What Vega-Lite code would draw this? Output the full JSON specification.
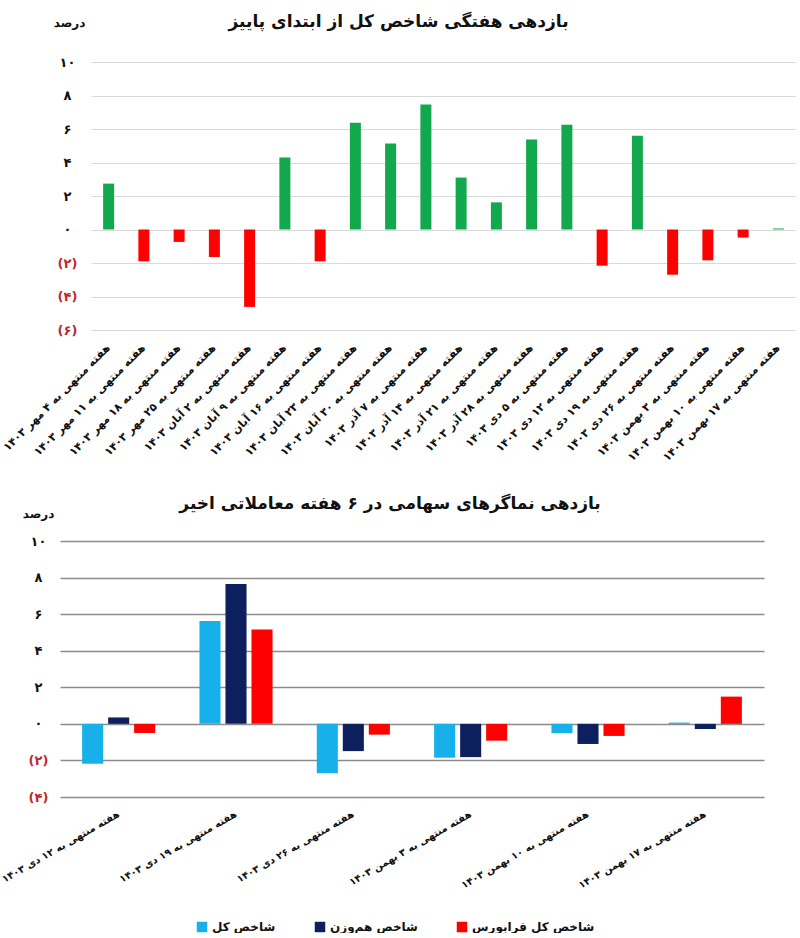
{
  "$schema": "https://vega.github.io/schema/vega-lite/v6.json",
  "background": "white",
  "padding": {"left": 0, "top": 13, "right": 0, "bottom": 0},
  "spacing": 32,
  "config": {
    "font": "DejaVu Sans",
    "view": {"stroke": null},
    "title": {"font": "DejaVu Sans", "fontSize": 17, "fontWeight": "bold", "color": "#111111", "frame": "bounds", "anchor": "middle"},
    "axis": {"labelFont": "DejaVu Sans", "titleFont": "DejaVu Sans", "labelFontWeight": "bold", "titleFontWeight": "bold", "labelColor": "#111111", "titleColor": "#111111"},
    "legend": {"labelFont": "DejaVu Sans"}
  },
  "vconcat": [
    {
      "title": {"text": "بازدهی هفتگی شاخص کل از ابتدای پاییز", "offset": -15},
      "width": 736,
      "height": 268,
      "data": {"values": [
        {"week": "هفته منتهی به ۴ مهر ۱۴۰۳", "value": 2.74},
        {"week": "هفته منتهی به ۱۱ مهر ۱۴۰۳", "value": -1.9},
        {"week": "هفته منتهی به ۱۸ مهر ۱۴۰۳", "value": -0.74},
        {"week": "هفته منتهی به ۲۵ مهر ۱۴۰۳", "value": -1.64},
        {"week": "هفته منتهی به ۲ آبان ۱۴۰۳", "value": -4.62},
        {"week": "هفته منتهی به ۹ آبان ۱۴۰۳", "value": 4.3},
        {"week": "هفته منتهی به ۱۶ آبان ۱۴۰۳", "value": -1.9},
        {"week": "هفته منتهی به ۲۳ آبان ۱۴۰۳", "value": 6.38},
        {"week": "هفته منتهی به ۳۰ آبان ۱۴۰۳", "value": 5.14},
        {"week": "هفته منتهی به ۷ آذر ۱۴۰۳", "value": 7.46},
        {"week": "هفته منتهی به ۱۴ آذر ۱۴۰۳", "value": 3.1},
        {"week": "هفته منتهی به ۲۱ آذر ۱۴۰۳", "value": 1.62},
        {"week": "هفته منتهی به ۲۸ آذر ۱۴۰۳", "value": 5.38},
        {"week": "هفته منتهی به ۵ دی ۱۴۰۳", "value": 6.26},
        {"week": "هفته منتهی به ۱۲ دی ۱۴۰۳", "value": -2.16},
        {"week": "هفته منتهی به ۱۹ دی ۱۴۰۳", "value": 5.6},
        {"week": "هفته منتهی به ۲۶ دی ۱۴۰۳", "value": -2.7},
        {"week": "هفته منتهی به ۳ بهمن ۱۴۰۳", "value": -1.84},
        {"week": "هفته منتهی به ۱۰ بهمن ۱۴۰۳", "value": -0.48},
        {"week": "هفته منتهی به ۱۷ بهمن ۱۴۰۳", "value": 0.06}
      ]},
      "mark": {"type": "bar", "width": 11},
      "encoding": {
        "x": {
          "field": "week", "type": "nominal", "sort": null,
          "scale": {"paddingInner": 0, "paddingOuter": 0, "range": [31, 736]},
          "axis": {"title": null, "labelAngle": -45, "labelFontSize": 11, "labelPadding": 16, "ticks": false, "domain": false, "grid": false, "labelAlign": "right", "labelBaseline": "middle", "labelLimit": 300}
        },
        "y": {
          "field": "value", "type": "quantitative",
          "scale": {"domain": [-6, 10], "nice": false},
          "axis": {
            "offset": -31,
            "title": "درصد", "titleAngle": 0, "titleX": -22, "titleY": -40, "titleAlign": "center", "titleBaseline": "middle", "titleFontSize": 12,
            "values": [-6, -4, -2, 0, 2, 4, 6, 8, 10],
            "labelExpr": "(datum.value < 0 ? '(' : '') + (abs(datum.value) == 10 ? '۱۰' : abs(datum.value) == 8 ? '۸' : abs(datum.value) == 6 ? '۶' : abs(datum.value) == 4 ? '۴' : abs(datum.value) == 2 ? '۲' : '۰') + (datum.value < 0 ? ')' : '')",
            "labelAlign": "center", "labelPadding": 24, "labelFontSize": 13,
            "labelColor": {"condition": {"test": "datum.value < 0", "value": "#c0262d"}, "value": "#111111"},
            "ticks": false, "domain": false, "grid": true, "gridColor": "#dadada", "gridWidth": 1
          }
        },
        "color": {"condition": {"test": "datum.value >= 0", "value": "#11a84e"}, "value": "#ff0000"}
      }
    },
    {
      "title": {"text": "بازدهی نماگرهای سهامی در ۶ هفته معاملاتی اخیر", "offset": -6, "dx": 8},
      "width": 704,
      "height": 256,
      "data": {"values": [
        {"week": "هفته منتهی به ۱۲ دی ۱۴۰۳", "series": "شاخص کل", "value": -2.18},
        {"week": "هفته منتهی به ۱۲ دی ۱۴۰۳", "series": "شاخص هم‌وزن", "value": 0.35},
        {"week": "هفته منتهی به ۱۲ دی ۱۴۰۳", "series": "شاخص کل فرابورس", "value": -0.5},
        {"week": "هفته منتهی به ۱۹ دی ۱۴۰۳", "series": "شاخص کل", "value": 5.63},
        {"week": "هفته منتهی به ۱۹ دی ۱۴۰۳", "series": "شاخص هم‌وزن", "value": 7.65},
        {"week": "هفته منتهی به ۱۹ دی ۱۴۰۳", "series": "شاخص کل فرابورس", "value": 5.16},
        {"week": "هفته منتهی به ۲۶ دی ۱۴۰۳", "series": "شاخص کل", "value": -2.7},
        {"week": "هفته منتهی به ۲۶ دی ۱۴۰۳", "series": "شاخص هم‌وزن", "value": -1.49},
        {"week": "هفته منتهی به ۲۶ دی ۱۴۰۳", "series": "شاخص کل فرابورس", "value": -0.59},
        {"week": "هفته منتهی به ۳ بهمن ۱۴۰۳", "series": "شاخص کل", "value": -1.85},
        {"week": "هفته منتهی به ۳ بهمن ۱۴۰۳", "series": "شاخص هم‌وزن", "value": -1.82},
        {"week": "هفته منتهی به ۳ بهمن ۱۴۰۳", "series": "شاخص کل فرابورس", "value": -0.92},
        {"week": "هفته منتهی به ۱۰ بهمن ۱۴۰۳", "series": "شاخص کل", "value": -0.5},
        {"week": "هفته منتهی به ۱۰ بهمن ۱۴۰۳", "series": "شاخص هم‌وزن", "value": -1.1},
        {"week": "هفته منتهی به ۱۰ بهمن ۱۴۰۳", "series": "شاخص کل فرابورس", "value": -0.66},
        {"week": "هفته منتهی به ۱۷ بهمن ۱۴۰۳", "series": "شاخص کل", "value": 0.07},
        {"week": "هفته منتهی به ۱۷ بهمن ۱۴۰۳", "series": "شاخص هم‌وزن", "value": -0.28},
        {"week": "هفته منتهی به ۱۷ بهمن ۱۴۰۳", "series": "شاخص کل فرابورس", "value": 1.49}
      ]},
      "mark": "bar",
      "encoding": {
        "x": {
          "field": "week", "type": "nominal", "sort": null,
          "scale": {"paddingInner": 0, "paddingOuter": 0},
          "axis": {"title": null, "labelAngle": -30, "labelFontSize": 10, "labelPadding": 16, "ticks": false, "domain": false, "grid": false, "labelAlign": "right", "labelBaseline": "middle", "labelLimit": 300}
        },
        "xOffset": {
          "field": "series", "type": "nominal",
          "sort": ["شاخص کل", "شاخص هم‌وزن", "شاخص کل فرابورس"],
          "scale": {"paddingInner": 0.19, "paddingOuter": 0.85}
        },
        "y": {
          "field": "value", "type": "quantitative",
          "scale": {"domain": [-4, 10], "nice": false},
          "axis": {
            "title": "درصد", "titleAngle": 0, "titleX": -22, "titleY": -28, "titleAlign": "center", "titleBaseline": "middle", "titleFontSize": 12,
            "values": [-4, -2, 0, 2, 4, 6, 8, 10],
            "labelExpr": "(datum.value < 0 ? '(' : '') + (abs(datum.value) == 10 ? '۱۰' : abs(datum.value) == 8 ? '۸' : abs(datum.value) == 6 ? '۶' : abs(datum.value) == 4 ? '۴' : abs(datum.value) == 2 ? '۲' : '۰') + (datum.value < 0 ? ')' : '')",
            "labelAlign": "center", "labelPadding": 22, "labelFontSize": 13,
            "labelColor": {"condition": {"test": "datum.value < 0", "value": "#c0262d"}, "value": "#111111"},
            "ticks": false, "domain": false, "grid": true, "gridColor": "#8c8c8c", "gridWidth": 1.5
          }
        },
        "color": {
          "field": "series", "type": "nominal",
          "sort": ["شاخص کل", "شاخص هم‌وزن", "شاخص کل فرابورس"],
          "scale": {"domain": ["شاخص کل", "شاخص هم‌وزن", "شاخص کل فرابورس"], "range": ["#18b0ea", "#0d1f5c", "#ff0000"]},
          "legend": {"title": null, "orient": "none", "legendX": 136, "legendY": 859, "direction": "horizontal", "symbolType": "square", "symbolSize": 110, "symbolStrokeWidth": 0, "labelFontSize": 12, "labelFontWeight": "bold", "labelColor": "#111111", "columnPadding": 38, "labelLimit": 300}
        }
      }
    }
  ]
}
